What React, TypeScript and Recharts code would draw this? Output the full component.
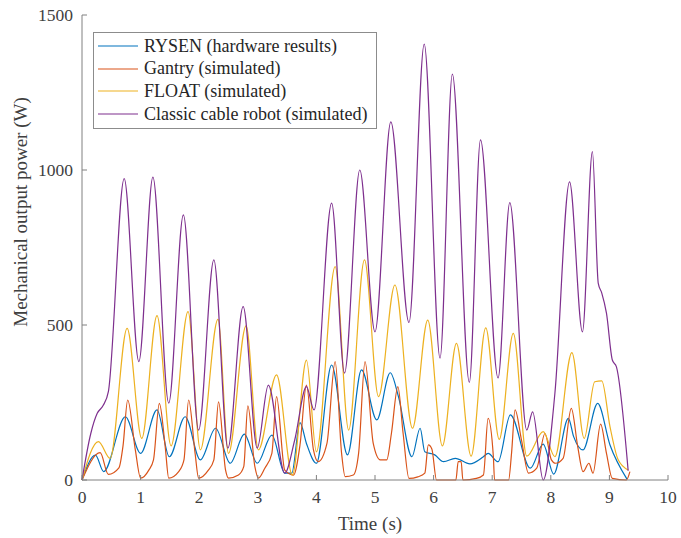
import React from "react";
import { LineChart, Line, XAxis, YAxis, Legend, Label } from "recharts";

// axis ticks
const timeTicks = [0, 1, 2, 3, 4, 5, 6, 7, 8, 9, 10];
const powerTicks = [0, 500, 1000, 1500];

// RYSEN (hardware results)
const rysenT = [0, 0.23, 0.37, 0.74, 1.0, 1.28, 1.49, 1.76, 2.02, 2.28, 2.53, 2.77, 2.99, 3.24, 3.46, 3.58, 3.72, 3.83, 4.0, 4.26, 4.53, 4.77, 5.03, 5.26, 5.4, 5.63, 5.77, 5.85, 6.02, 6.17, 6.37, 6.62, 6.85, 6.93, 7.1, 7.31, 7.65, 7.87, 8.05, 8.3, 8.39, 8.55, 8.8, 9.01, 9.3];
const rysenP = [0, 80, 27, 204, 86, 226, 75, 204, 65, 167, 54, 148, 54, 145, 22, 22, 185, 118, 54, 371, 81, 355, 194, 346, 269, 75, 167, 91, 81, 59, 70, 52, 75, 86, 59, 210, 38, 116, 19, 199, 140, 97, 247, 113, 3];

// Gantry (simulated)
const gantryT = [0, 0.31, 0.45, 0.63, 0.7, 0.78, 0.91, 1.0, 1.14, 1.22, 1.32, 1.42, 1.48, 1.65, 1.74, 1.82, 1.93, 1.99, 2.15, 2.25, 2.33, 2.45, 2.5, 2.67, 2.76, 2.83, 2.95, 3.01, 3.12, 3.24, 3.32, 3.46, 3.61, 3.72, 3.83, 3.95, 4.03, 4.18, 4.32, 4.43, 4.49, 4.63, 4.72, 4.83, 4.97, 5.09, 5.2, 5.28, 5.39, 5.48, 5.58, 5.73, 5.85, 5.91, 5.97, 6.05, 6.38, 6.42, 6.47, 6.5, 6.73, 6.85, 6.93, 7.02, 7.04, 7.28, 7.33, 7.39, 7.5, 7.62, 7.76, 7.9, 8.01, 8.08, 8.21, 8.35, 8.46, 8.55, 8.65, 8.72, 8.85, 8.95, 9.05, 9.29, 9.35];
const gantryP = [0, 88, 18, 39, 110, 258, 97, 6, 32, 65, 247, 107, 6, 27, 65, 258, 86, 6, 30, 65, 252, 32, 6, 16, 43, 239, 43, 6, 38, 86, 269, 32, 16, 113, 306, 97, 59, 118, 382, 86, 11, 16, 86, 382, 118, 65, 65, 150, 301, 150, 5, 10, 22, 113, 100, 0, 0, 59, 59, 0, 5, 16, 199, 75, 0, 0, 86, 226, 129, 22, 38, 150, 65, 54, 70, 231, 107, 27, 54, 22, 180, 86, 5, 0, 27];

// FLOAT (simulated)
const floatT = [0, 0.28, 0.48, 0.77, 1.02, 1.28, 1.52, 1.81, 2.02, 2.32, 2.5, 2.8, 3.01, 3.32, 3.59, 3.83, 4.0, 4.32, 4.55, 4.82, 5.06, 5.34, 5.64, 5.9, 6.15, 6.39, 6.64, 6.89, 7.12, 7.36, 7.59, 7.87, 8.07, 8.36, 8.57, 8.75, 8.87, 9.01, 9.15, 9.32];
const floatP = [0, 124, 70, 489, 134, 530, 110, 543, 97, 518, 86, 497, 97, 339, 16, 387, 91, 688, 161, 710, 269, 629, 167, 516, 110, 441, 77, 491, 131, 473, 77, 156, 75, 411, 134, 317, 320, 172, 65, 32];

// Classic cable robot (simulated)
const classicT = [0, 0.15, 0.26, 0.36, 0.45, 0.72, 0.97, 1.21, 1.48, 1.73, 1.99, 2.25, 2.49, 2.75, 2.99, 3.18, 3.46, 3.63, 3.83, 3.96, 4.26, 4.48, 4.74, 5.0, 5.27, 5.58, 5.84, 6.11, 6.32, 6.61, 6.8, 7.1, 7.3, 7.59, 7.69, 7.87, 8.07, 8.32, 8.54, 8.71, 8.81, 8.87, 8.95, 9.05, 9.12, 9.32];
const classicP = [0, 150, 215, 240, 285, 972, 382, 977, 248, 855, 161, 710, 103, 559, 103, 306, 22, 129, 301, 226, 893, 345, 1000, 478, 1155, 508, 1406, 393, 1309, 315, 1097, 329, 895, 161, 220, 0, 280, 962, 478, 1059, 634, 603, 538, 387, 365, 30];

const zip = (t: number[], p: number[]) => t.map((x, i) => ({ t: x, p: p[i] }));

const series = [
  { name: "RYSEN (hardware results)", color: "#0072BD", data: zip(rysenT, rysenP) },
  { name: "Gantry (simulated)", color: "#D95319", data: zip(gantryT, gantryP) },
  { name: "FLOAT (simulated)", color: "#EDB120", data: zip(floatT, floatP) },
  { name: "Classic cable robot (simulated)", color: "#7E2F8E", data: zip(classicT, classicP) },
];
const seriesOrder = series.map((s) => s.name);

const FONT = '"Liberation Serif", "Times New Roman", serif';
const AXIS = "#808080";
const TEXT = "#404040";

const XTick = (props: any) => {
  const { x, y, payload } = props;
  return (
    <g>
      <line x1={x} y1={y} x2={x} y2={y - 5} stroke={AXIS} />
      <text x={x} y={y + 23} textAnchor="middle" fontFamily={FONT} fontSize={17.5} fill={TEXT}>
        {payload.value}
      </text>
    </g>
  );
};

const YTick = (props: any) => {
  const { x, y, payload } = props;
  return (
    <g>
      <line x1={x} y1={y} x2={x + 5} y2={y} stroke={AXIS} />
      <text x={x - 9} y={y + 6} textAnchor="end" fontFamily={FONT} fontSize={17.5} fill={TEXT}>
        {payload.value}
      </text>
    </g>
  );
};

const LegendBox = (props: any) => {
  // keep the plotting order, not alphabetical
  const items = [...(props.payload || [])].sort(
    (a: any, b: any) => seriesOrder.indexOf(a.value) - seriesOrder.indexOf(b.value)
  );
  return (
    <div
      style={{
        width: 282,
        border: "1px solid #8c8c8c",
        background: "#fff",
        padding: "2px 0 3px 0",
        fontFamily: FONT,
        fontSize: 18,
        color: "#262626",
      }}
    >
      {items.map((entry: any) => (
        <div key={entry.value} style={{ display: "flex", alignItems: "center", height: 22.6 }}>
          <svg width={50} height={10} style={{ flex: "none" }}>
            <line x1={4} y1={5} x2={44} y2={5} stroke={entry.color} strokeWidth={1.2} />
          </svg>
          <span style={{ whiteSpace: "nowrap" }}>{entry.value}</span>
        </div>
      ))}
    </div>
  );
};

export default function App() {
  return (
    <div style={{ position: "absolute", left: 0, top: 0, background: "#fff" }}>
      <LineChart width={681} height={538} margin={{ top: 15, right: 13, bottom: 0, left: 0 }}>
        <XAxis
          dataKey="t"
          type="number"
          domain={[0, 10]}
          ticks={timeTicks}
          interval={0}
          height={58}
          tickSize={0}
          tickMargin={0}
          tickLine={false}
          axisLine={{ stroke: AXIS }}
          tick={<XTick />}
        >
          <Label
            content={(p: any) => (
              <text
                x={p.viewBox.x + p.viewBox.width / 2 - 5}
                y={p.viewBox.y + 50}
                textAnchor="middle"
                fontFamily={FONT}
                fontSize={19}
                fill={TEXT}
              >
                Time (s)
              </text>
            )}
          />
        </XAxis>
        <YAxis
          type="number"
          domain={[0, 1500]}
          ticks={powerTicks}
          interval={0}
          width={82}
          tickSize={0}
          tickMargin={0}
          tickLine={false}
          axisLine={{ stroke: AXIS }}
          tick={<YTick />}
        >
          <Label
            content={() => (
              <text
                x={27}
                y={212}
                transform="rotate(-90 27 212)"
                textAnchor="middle"
                fontFamily={FONT}
                fontSize={19}
                fill={TEXT}
              >
                Mechanical output power (W)
              </text>
            )}
          />
        </YAxis>
        <Legend
          layout="vertical"
          align="center"
          verticalAlign="middle"
          content={<LegendBox />}
          wrapperStyle={{ left: 93, top: 32, width: 284 }}
        />
        {series.map((s) => (
          <Line
            key={s.name}
            name={s.name}
            data={s.data}
            dataKey="p"
            type="monotone"
            stroke={s.color}
            strokeWidth={1.2}
            dot={false}
            activeDot={false}
            isAnimationActive={false}
          />
        ))}
      </LineChart>
    </div>
  );
}
